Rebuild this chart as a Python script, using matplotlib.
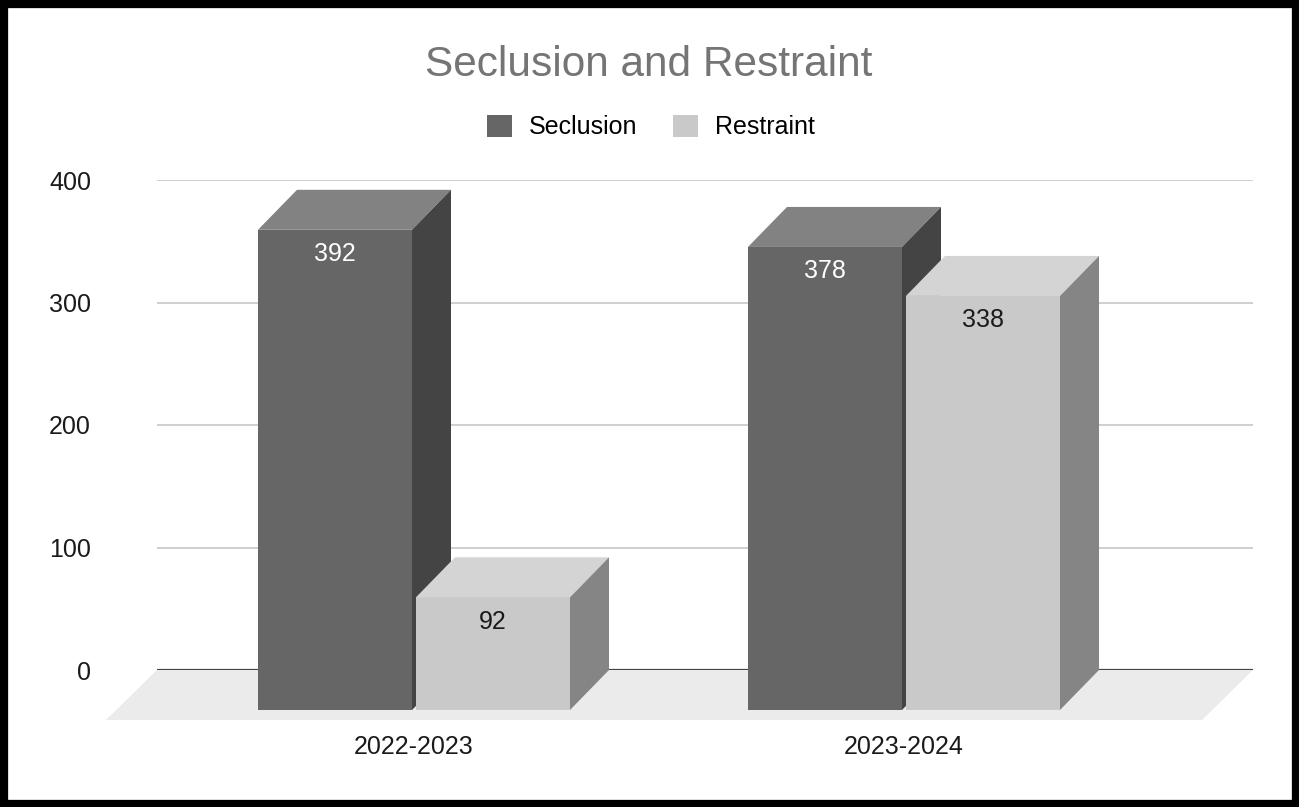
import numpy as np
import matplotlib
matplotlib.use("Agg")
import matplotlib.pyplot as plt
from matplotlib.patches import Polygon, Patch, Rectangle

# data
CATEGORIES = ["2022-2023", "2023-2024"]
SERIES = ["Seclusion", "Restraint"]
SECLUSION = [392, 378]
RESTRAINT = [92, 338]
Y_TICKS = [0, 100, 200, 300, 400]

# colours: front, top, side, label
STYLES = {"Seclusion": ("#666666", "#828282", "#444444", "white"),
          "Restraint": ("#c9c9c9", "#d4d4d4", "#858585", "#1a1a1a")}

# geometry (in data units: x = category index, y = value)
PX_X = 490.0          # pixels per category step
PX_Y = 490.0 / 400    # pixels per unit value
BAR_W = 154 / PX_X
BAR_GAP = 4 / PX_X
DEPTH_X = 39 / PX_X
DEPTH_Y = 40 / PX_Y
FLOOR_DX = 51 / PX_X
FLOOR_DY = 50 / PX_Y

plt.rcParams['font.family'] = ['Liberation Sans', 'DejaVu Sans']

fig = plt.figure(figsize=(12.99, 8.07), dpi=100)
ax = fig.add_axes([157 / 1299, 137 / 807, 1096 / 1299, 490 / 807])
x0, x1 = (157 - 414) / PX_X, (1253 - 414) / PX_X
ax.set_xlim(x0, x1)
ax.set_ylim(0, 400)
for s in ax.spines.values():
    s.set_visible(False)

# grid on the back wall
ax.set_yticks(Y_TICKS)
ax.set_xticks([])
ax.yaxis.grid(True, color="#cccccc", lw=1.3, zorder=0)
ax.set_axisbelow(True)
ax.tick_params(axis='y', length=0, pad=47.5, labelsize=18, labelcolor="#1a1a1a")

# floor
floor = Polygon([(x0 - FLOOR_DX, -FLOOR_DY), (x0, 0), (x1, 0), (x1 - FLOOR_DX, -FLOOR_DY)],
                closed=True, facecolor="#ebebeb", edgecolor="none", clip_on=False, zorder=1)
ax.add_patch(floor)
ax.axhline(0, color="#444444", lw=1.6, zorder=1.5)


def draw_box(xl, value, name, z):
    front, top, side, txt = STYLES[name]
    xr = xl + BAR_W
    ax.bar(xl, value, width=BAR_W, bottom=-DEPTH_Y, align='edge', color=front,
           clip_on=False, zorder=z)
    top_face = [(xl, value - DEPTH_Y), (xl + DEPTH_X, value), (xr + DEPTH_X, value), (xr, value - DEPTH_Y)]
    side_face = [(xr, -DEPTH_Y), (xr + DEPTH_X, 0), (xr + DEPTH_X, value), (xr, value - DEPTH_Y)]
    ax.add_patch(Polygon(top_face, closed=True, facecolor=top, edgecolor="none", clip_on=False, zorder=z))
    ax.add_patch(Polygon(side_face, closed=True, facecolor=side, edgecolor="none", clip_on=False, zorder=z))
    ax.text(xl + BAR_W / 2, value - DEPTH_Y - 20, str(value), ha="center", va="center",
            fontsize=18, color=txt, zorder=z + 0.1)


z = 2
for i, cat in enumerate(CATEGORIES):
    draw_box(i - BAR_GAP / 2 - BAR_W, SECLUSION[i], "Seclusion", z)
    draw_box(i + BAR_GAP / 2, RESTRAINT[i], "Restraint", z + 1)
    z += 2
    ax.text(i, -63, cat, ha="center", va="center", fontsize=18, color="#1a1a1a")

# title and legend
fig.text(649 / 1299, 1 - 65 / 807, "Seclusion and Restraint", ha="center", va="center",
         fontsize=30.5, color="#757575")
handles = [Patch(facecolor=STYLES[s][0], edgecolor="none") for s in SERIES]
fig.legend(handles, SERIES, loc="center", bbox_to_anchor=(651 / 1299, 1 - 127 / 807), ncol=2,
           frameon=False, fontsize=18, handlelength=1.0, handleheight=1.0,
           handletextpad=0.7, columnspacing=1.4)

# black frame around the picture
fig.patches.append(Rectangle((0, 0), 1, 1, transform=fig.transFigure, fill=False,
                             edgecolor="black", lw=11, zorder=10))

fig.savefig("out.png", dpi=100)
